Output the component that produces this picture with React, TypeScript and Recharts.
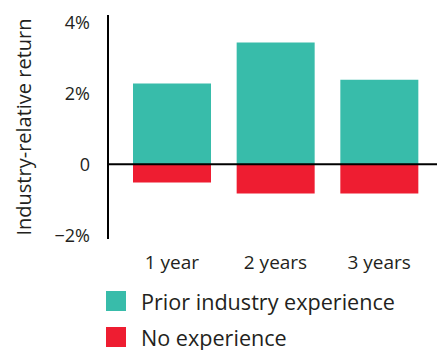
import { BarChart, Bar, XAxis, YAxis, ReferenceLine } from "recharts";

const TEAL = "#38bcaa";
const RED = "#ee1d31";
const INK = "#231f20";
const FONT = "'Open Sans', sans-serif";

const periods = ["1 year", "2 years", "3 years"];
const priorExperience = [2.27, 3.43, 2.38];
const noExperience = [-0.51, -0.82, -0.82];
const yTicks = [-2, 0, 2, 4];

const data = periods.map((p, i) => ({
  period: p,
  prior: priorExperience[i],
  none: noExperience[i],
}));

const legendItems = [
  { label: "Prior industry experience", color: TEAL },
  { label: "No experience", color: RED },
];

function fmtTick(v: number) {
  if (v === 0) return "0";
  return v < 0 ? `\u2212${Math.abs(v)}%` : `${v}%`;
}

function LegendBox() {
  return (
    <div
      style={{
        position: "absolute",
        left: 106,
        top: 283,
        fontFamily: FONT,
        fontSize: 21.6,
        color: INK,
      }}
    >
      {legendItems.map((it) => (
        <div key={it.label} style={{ display: "flex", alignItems: "center", height: 36, whiteSpace: "nowrap" }}>
          <span style={{ width: 20, height: 20, background: it.color, marginRight: 15 }} />
          {it.label}
        </div>
      ))}
    </div>
  );
}

export default function App() {
  return (
    <div style={{ position: "absolute", left: 0, top: 0, width: 437, height: 350, background: "#fff" }}>
      <BarChart
        width={437}
        height={350}
        data={data}
        stackOffset="sign"
        margin={{ top: 15, right: 0, bottom: 81, left: 0 }}
      >
        <XAxis
          dataKey="period"
          height={30}
          axisLine={false}
          tickLine={false}
          tickSize={6}
          tickMargin={11}
          padding={{ left: 12, right: 6 }}
          tick={{ fill: INK, fontSize: 19, fontFamily: FONT }}
        />
        <YAxis
          width={108}
          domain={[-2.1, 4.2]}
          ticks={yTicks}
          tickFormatter={fmtTick}
          axisLine={{ stroke: "#000", strokeWidth: 2 }}
          tickLine={false}
          tickSize={6}
          tickMargin={12}
          tick={{ fill: INK, fontSize: 18, fontFamily: FONT }}
          label={{
            value: "Industry-relative return",
            angle: -90,
            position: "insideLeft",
            offset: 24,
            style: { textAnchor: "middle", fill: INK, fontSize: 20, fontFamily: FONT },
          }}
        />
        <Bar dataKey="prior" stackId="a" fill={TEAL} barSize={78} isAnimationActive={false} />
        <Bar dataKey="none" stackId="a" fill={RED} barSize={78} isAnimationActive={false} />
        <ReferenceLine y={0} stroke="#000" strokeWidth={2} />
      </BarChart>
      <LegendBox />
    </div>
  );
}
